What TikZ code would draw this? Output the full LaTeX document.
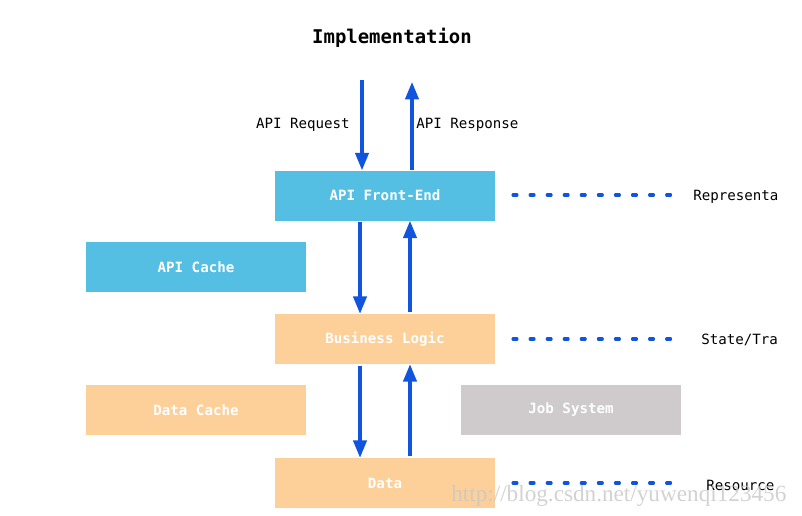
\documentclass[tikz,border=0pt]{standalone}
\usepackage{fontspec}
\setmonofont{DejaVu Sans Mono}
\newfontfamily\markfont{Liberation Serif}
\usetikzlibrary{arrows.meta, positioning, calc}

\definecolor{apiblue}{RGB}{84,190,227}
\definecolor{peach}{RGB}{253,208,154}
\definecolor{jobgray}{RGB}{207,203,204}
\definecolor{flowblue}{RGB}{17,84,222}

\tikzset{
	layer/.style = {minimum width = 165pt, minimum height = 37.5pt, inner sep = 0pt,
		text = white, font = \ttfamily\bfseries\fontsize{10.6}{12}\selectfont},
	flow/.style = {flowblue, line width = 2.3pt, -{Triangle[length = 13pt, width = 10pt]}},
	tier/.style = {flowblue, line width = 2.3pt, line cap = round, dash pattern = on 3pt off 9.8pt},
	note/.style = {inner sep = 0pt, font = \ttfamily\fontsize{10.6}{12}\selectfont}
}

\begin{document}
	\begin{tikzpicture}[x = 0.75pt, y = -0.75pt]
		\useasboundingbox (0, 0) rectangle (802, 515);

		\node [font = \ttfamily\bfseries\fontsize{14.2}{16}\selectfont] (title) at (392, 38) {Implementation};

		% main stack
		\node [layer, fill = apiblue] (front) at (385, 195.5) {API Front-End};
		\node [layer, fill = peach] (logic) at (385, 339) {Business Logic};
		\node [layer, fill = peach] (data) at (385, 483) {Data};

		% side boxes
		\node [layer, fill = apiblue] (apicache) at (196, 267) {API Cache};
		\node [layer, fill = peach] (datacache) at (196, 410) {Data Cache};
		\node [layer, fill = jobgray] (jobs) at (571, 410) {Job System};

		% request / response
		\coordinate (reqTop) at (362, 80);
		\coordinate (resTop) at (412, 82);
		\draw [flow] (reqTop) -- (front.north -| reqTop);
		\draw [flow] (front.north -| resTop) -- (resTop);
		\node [note, anchor = east] (req) at (350, 125) {API Request};
		\node [note, anchor = west] (res) at (416, 125) {API Response};

		% between layers
		\foreach \upper/\lower in {front/logic, logic/data} {
			\draw [flow, shorten <= 1pt] ([xshift = -18.75pt]\upper.south) -- ([xshift = -18.75pt]\lower.north);
			\draw [flow, shorten <= 1pt] ([xshift = 18.75pt]\lower.north) -- ([xshift = 18.75pt]\upper.south);
		}

		% tiers on the right
		\node [note, anchor = west] (repr) at (693, 197) {Representa};
		\node [note, anchor = west] (state) at (701, 340) {State/Tra};
		\node [note, anchor = west] (rsrc) at (706, 485) {Resource};
		\draw [tier] (513, 195) -- (672, 195);
		\draw [tier] (513, 339) -- (672, 339);
		\draw [tier] (513, 483) -- (672, 483);

		% watermark
		\node [anchor = west, inner sep = 0pt, text = black!22, opacity = 0.8,
			font = \markfont\fontsize{17.4}{18}\selectfont] (mark) at (451, 496) {http://blog.csdn.net/yuwenqi123456};
	\end{tikzpicture}
\end{document}
